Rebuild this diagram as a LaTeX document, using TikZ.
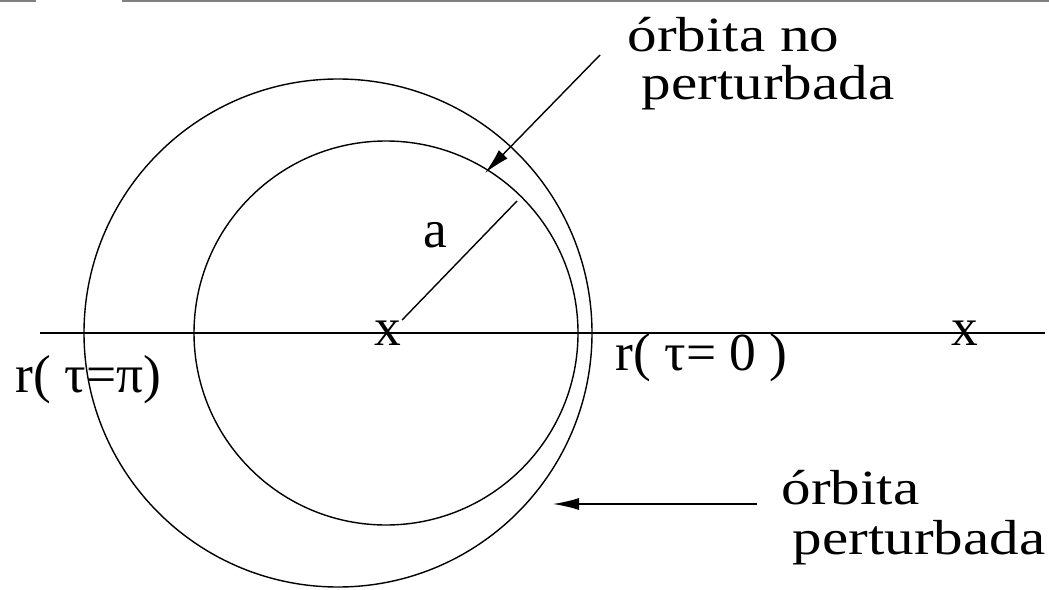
\documentclass[tikz,border=0pt]{standalone}
\usepackage{fontspec}
\setmainfont{Liberation Serif}
\newfontfamily\orbfont[FakeStretch=1.2]{Liberation Serif}
\usetikzlibrary{arrows.meta}
\begin{document}
\begin{tikzpicture}[x=0.025cm,y=-0.025cm,line width=1pt,
  >={Latex[length=0.65cm,width=0.3cm]},
  lab/.style={font=\orbfont\fontsize{35}{42}\selectfont,inner sep=0pt,anchor=base west},
  mlab/.style={font=\fontsize{38}{46}\selectfont,inner sep=0pt}]
  \useasboundingbox (0,0) rectangle (1049,590);
  \coordinate (O1) at (386,333);
  \coordinate (O2) at (338,333);
  \coordinate (L) at (40,333);
  \coordinate (R) at (1045,333);
  \coordinate (rA) at (517,201);
  \coordinate (s1) at (600,55);
  \coordinate (t1) at (485,173);
  \coordinate (s2) at (757,504);
  \coordinate (t2) at (553,504);

  % borde superior
  \draw[gray,line width=0.8pt] (0,1) -- (36,1);
  \draw[gray,line width=0.8pt] (122,1) -- (1049,1);

  % eje y orbitas
  \draw (L) -- (R);
  \draw (O1) circle[radius=192];
  \draw (O2) circle[radius=254];

  % etiquetas
  \node[mlab] (xc) at (388,333) {x};
  \node[mlab] (xf) at (965,333) {x};
  \node[mlab] (a) at (435,235) {a};
  \node[mlab,anchor=base west] (rpi) at (15,392) {r( τ=π)};
  \node[mlab,anchor=base west] (r0) at (615,370) {r( τ= 0 )};
  \node[lab] (np1) at (627,52) {órbita no};
  \node[lab] (np2) at (641,100) {perturbada};
  \node[lab] (p1) at (781,504) {órbita};
  \node[lab] (p2) at (792,554) {perturbada};

  % radio y flechas
  \draw (xc.north east) -- (rA);
  \draw[->] (s1) -- (t1);
  \draw[->] (s2) -- (t2);
\end{tikzpicture}
\end{document}
